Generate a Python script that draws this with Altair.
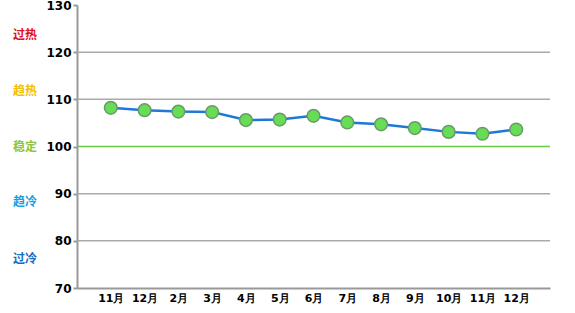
import altair as alt
import pandas as pd
import json

months = ["11月", "12月", "2月", "3月", "4月", "5月", "6月", "7月", "8月", "9月", "10月", "11月", "12月"]
values = [108.2, 107.7, 107.4, 107.3, 105.6, 105.7, 106.5, 105.1, 104.7, 103.9, 103.1, 102.7, 103.6]

grid_values = [80, 90, 110, 120]
stable_value = [100]
y_ticks = [70, 80, 90, 100, 110, 120, 130]

zone_labels = ["过热", "趋热", "稳定", "趋冷", "过冷"]
zone_values = [123.6, 111.8, 100.0, 88.2, 76.2]
zone_colors = ["#e0101a", "#f2c000", "#8cc63f", "#1aa0e0", "#1a6cc0"]

df = pd.DataFrame({"idx": list(range(len(months))), "month": months, "value": values})
grid_df = pd.DataFrame({"v": grid_values})
stable_df = pd.DataFrame({"v": stable_value})
zone_df = pd.DataFrame({"label": zone_labels, "v": zone_values, "c": zone_colors})

label_expr = json.dumps(months, ensure_ascii=False) + "[datum.value]"

yscale = alt.Scale(domain=[70, 130], nice=False, zero=False)
xscale = alt.Scale(domain=list(range(len(months))), type="point", padding=1.05)

base_x = alt.X("idx:O", scale=xscale,
               axis=alt.Axis(title=None, labelExpr=label_expr, labelAngle=0, ticks=False,
                             domainColor="#999999", domainWidth=2, labelFontWeight="bold",
                             labelFontSize=11, labelColor="#000000", labelPadding=4,
                             labelFont="DejaVu Sans"))

grid = alt.Chart(grid_df).mark_rule(color="#aaaaaa", strokeWidth=1.5).encode(
    y=alt.Y("v:Q", scale=yscale),
    x=alt.value(0), x2=alt.value(473)
)
stable = alt.Chart(stable_df).mark_rule(color="#66cc44", strokeWidth=1.5).encode(
    y=alt.Y("v:Q", scale=yscale),
    x=alt.value(0), x2=alt.value(473)
)

line = alt.Chart(df).mark_line(color="#1f78d8", strokeWidth=2.5).encode(
    x=base_x,
    y=alt.Y("value:Q", scale=yscale,
            axis=alt.Axis(title=None, values=y_ticks, grid=False, domainColor="#999999",
                          domainWidth=2, tickColor="#999999", tickSize=4, tickWidth=2,
                          labelFontWeight="bold", labelFontSize=12, labelColor="#000000",
                          labelFont="DejaVu Sans", labelPadding=2))
)
points = alt.Chart(df).mark_point(filled=True, size=160, fill="#66dd55", stroke="#6a9a6a",
                                  strokeWidth=1.5, opacity=1).encode(
    x=alt.X("idx:O", scale=xscale),
    y=alt.Y("value:Q", scale=yscale)
)

zones = alt.Chart(zone_df).mark_text(fontWeight="bold", fontSize=12, font="Noto Sans CJK SC").encode(
    y=alt.Y("v:Q", scale=yscale),
    x=alt.value(-52),
    text=alt.Text("label:N"),
    color=alt.Color("c:N", scale=None)
)

chart = alt.layer(grid, stable, line, points, zones).properties(
    width=473, height=283,
    autosize=alt.AutoSizeParams(type="none"),
    padding={"left": 77, "top": 5, "right": 25, "bottom": 25}
).configure_view(stroke=None).configure_axis(labelFlush=False)

chart.save("out.html", embed_options={"renderer": "svg", "actions": False})
